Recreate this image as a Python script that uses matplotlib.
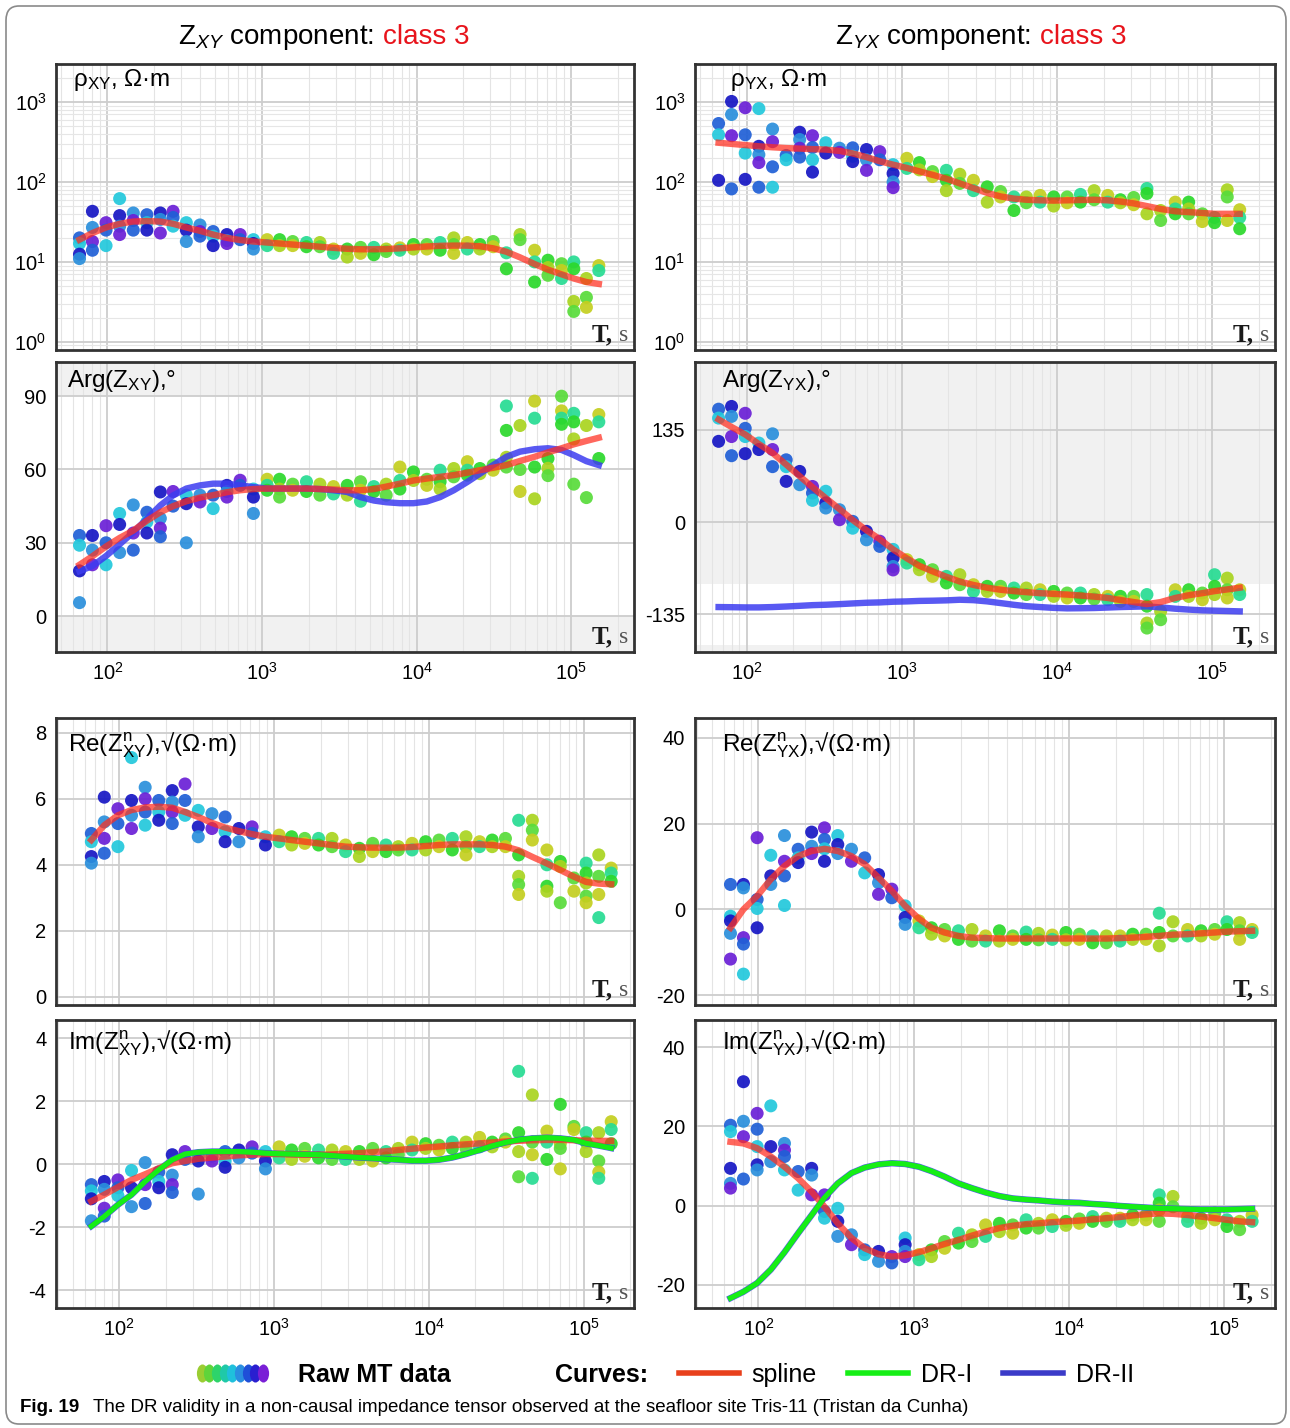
import numpy as np
import matplotlib
matplotlib.use("Agg")
from matplotlib import pyplot as plt
from matplotlib import font_manager
from matplotlib.lines import Line2D
from matplotlib.legend_handler import HandlerBase
from matplotlib.path import Path
from matplotlib.transforms import Affine2D
from matplotlib.patches import FancyBboxPatch
from matplotlib.ticker import LogLocator, NullFormatter

names = {f.name for f in font_manager.fontManager.ttflist}
NARROW = "Liberation Sans Narrow" if "Liberation Sans Narrow" in names else "Liberation Sans"

plt.rcParams["font.family"] = ["Liberation Sans", "DejaVu Sans"]
plt.rcParams["mathtext.fontset"] = "custom"
plt.rcParams["mathtext.rm"] = "Liberation Sans"
plt.rcParams["mathtext.it"] = "Liberation Sans:italic"
plt.rcParams["mathtext.bf"] = "Liberation Sans:bold"
plt.rcParams["axes.unicode_minus"] = False

# ---------------- data ----------------
T = [66, 80, 98, 120, 147, 180, 220, 266, 324, 397, 483, 593, 722, 880,
     1080, 1300, 1580, 1940, 2370, 2900, 3560, 4340, 5290, 6360, 7800, 9550,
     11650, 14200, 17400, 21300, 25700, 31300, 38100, 46700, 58000, 70800,
     86700, 104000, 125500, 151000]
N_SHORT = 14

rho_xy_raw = [
    [20, 17, 12.5, 11], [43, 27, 18, 14], [31, 25, 16], [62, 38, 28, 22],
    [41, 33, 25], [39, 31, 25], [41, 34, 23], [43, 36, 28], [31, 25, 18],
    [29, 24, 21], [24, 21, 16], [22, 18.5, 17], [22, 19], [19, 17, 14.5],
    [19, 16], [19, 16], [18, 16], [17.5, 15.5], [17.5, 15.5], [14.5, 12.8],
    [14.5, 11.5], [15.2, 12.8], [15.2, 12.3], [14.5, 13.5], [15, 14], [16.5, 14.5],
    [16.5, 14.5], [17.5, 14], [20, 16.5, 12.8], [17.5, 14.5], [16.5, 14.5], [18, 15.5],
    [13, 8.2], [22, 19], [14, 10, 5.6], [10.5, 8.5, 6.8], [9.5, 7.8, 6.2],
    [10, 8.2, 3.2, 2.4], [6.2, 3.6, 2.7], [9, 7.8]]
rho_xy_spline = [19, 23, 27, 30, 32, 32.5, 32, 30, 27, 24.5, 22, 20, 18.8, 18,
                 17.5, 17, 16.5, 16, 15.5, 15, 14.6, 14.4, 14.4, 14.5, 14.8, 15.2,
                 15.6, 15.9, 16, 16, 15.7, 14.8, 13.4, 11.4, 9.4, 8, 7, 6.2, 5.6, 5.3]

rho_yx_raw = [
    [540, 390, 105], [1020, 700, 380, 82], [850, 390, 230, 108], [830, 280, 220, 175, 86],
    [460, 320, 155, 86], [215, 190], [420, 340, 265, 205], [380, 270, 190, 133],
    [310, 230], [265, 235], [268, 210, 180], [255, 190, 140], [240, 190],
    [165, 128, 100, 85],
    [198, 148], [175, 142], [135, 117], [140, 105, 78], [125, 96], [105, 78],
    [87, 56], [76, 65], [65, 44], [65, 55], [68, 56], [65, 50], [65, 55], [70, 56],
    [78, 60], [68, 56], [60, 55], [64, 52],
    [83, 72, 40], [44, 33], [56, 46, 40], [56, 46, 40], [40, 32], [36, 31],
    [80, 65, 33], [45, 36, 26]]
rho_yx_spline = [310, 300, 290, 280, 272, 266, 262, 258, 255, 245, 228, 205, 182, 165,
                 150, 136, 123, 110, 96, 84, 73, 66, 62, 60, 59, 58.5, 59, 59.5, 60, 59,
                 57, 54, 50, 46, 43, 42, 41, 40, 40, 40]

arg_xy_raw = [
    [33, 29, 18.5, 5.5], [33, 27, 21], [37, 30, 21], [42, 37.5, 26], [45.5, 34, 27],
    [42.5, 38.5, 34], [50.8, 40, 36, 32.5], [51, 45], [49.5, 46, 30], [49.5, 46.7],
    [49.5, 44], [53.5, 51, 48.7], [55.6, 53.5], [52, 48.7, 42],
    [56, 53.5, 51.5], [56, 52, 48.7], [54, 51.5], [55, 51], [54, 49.5], [53, 50],
    [53.5, 49.5], [55, 51.5, 47], [53, 51], [54, 49.5], [61, 55.5, 52], [59, 55.5],
    [56, 53.5], [59.7, 55, 52], [60.4, 57], [63.2, 59.7, 57.7], [60.4, 58.3], [61.8, 59.7],
    [86, 76, 65, 61], [78, 60, 51], [88, 81, 61, 48], [64.5, 60.5, 57.5],
    [90, 84, 81, 78.5], [83, 79.5, 72.5, 54], [78, 48.5], [82.5, 79.5, 64.5]]
arg_xy_spline = [21, 24.5, 28.5, 32, 35, 39, 42.5, 45, 47, 48.5, 49.5, 50.7, 51.5, 52,
                 52.2, 52.2, 52.2, 52.2, 52, 51.8, 51.5, 51.5, 52, 53, 54.2, 55.5, 56.3,
                 57, 57.7, 58.7, 59.7, 60.7, 61.8, 63.5, 65.2, 67, 68.7, 70.3, 71.7, 73]
arg_xy_dr2 = [18.4, 20.5, 24.6, 29.4, 34.3, 39.8, 45.3, 49.4, 52.2, 53.5, 54.2, 54.2,
              53.5, 52.8, 52.2, 52.2, 52.2, 52.2, 52, 51.5, 50.8, 48.7, 47.3, 46.6, 46.2,
              46.2, 46.9, 48.7, 51.5, 54.9, 58.3, 61.8, 65.2, 67.3, 68.3, 68.7, 68, 65.9,
              63.4, 61.8]

arg_yx_raw = [
    [165, 152, 118], [169, 154.5, 125, 97], [159, 137, 125, 100], [115.5, 106],
    [129, 106, 81], [91, 81, 59.5], [74, 54.6], [52, 42.4, 31.7], [45, 28, 20.5],
    [18, 3.4], [1, -9], [-13.6, -26], [-28, -35.6], [-40, -52.6, -65, -70],
    [-55, -60], [-62.4, -69.7], [-69.7, -79.4], [-79.4, -89], [-77, -91.6],
    [-91.6, -101.4], [-94, -101.4], [-94, -101.4], [-96.5, -103.8], [-96.5, -106],
    [-99, -106], [-101.4, -108.7], [-103.8, -111], [-103.8, -111], [-106, -112.6],
    [-108.7, -113.6], [-108.7, -116], [-108.7, -116],
    [-106, -123, -147.7, -155], [-130.6, -142.8], [-99, -108.7], [-99, -108.7],
    [-103.8, -113.6], [-77, -94, -106], [-82, -99, -111], [-99, -106]]
arg_yx_spline = [150, 139, 128, 114, 101, 84, 67, 51, 35, 19, 3, -12, -25, -40, -53,
                 -64, -72, -80, -87, -92, -96, -99, -101, -102.5, -104, -105, -106,
                 -107.5, -109, -111, -114, -117, -120, -117, -111, -107, -104, -101,
                 -98.5, -96]
arg_yx_dr2 = [-124.3, -124.5, -124.8, -124.8, -124.3, -123.5, -122.5, -121.5, -120.9,
              -120, -119, -118, -117.5, -116.5, -116, -115.3, -115, -114.5, -113.6,
              -114.2, -116, -118.5, -121, -123, -124.3, -125.5, -126.2, -126, -125.7,
              -125, -124.3, -123.8, -123.3, -124.8, -126.7, -128, -129.1, -129.6,
              -130.1, -130.6]

re_xy_raw = [
    [4.95, 4.7, 4.25, 4.05], [6.05, 5.3, 4.8, 4.35], [5.7, 5.25, 4.55],
    [7.25, 5.95, 5.5, 5.1], [6.35, 6.0, 5.6, 5.2], [5.95, 5.6, 5.35],
    [6.25, 5.9, 5.6, 5.25], [6.45, 5.95, 5.5], [5.65, 5.15, 4.85], [5.55, 5.1],
    [5.45, 5.0, 4.7], [5.1, 4.7], [5.15, 4.95], [4.85, 4.6],
    [4.9, 4.7], [4.85, 4.6], [4.8, 4.65], [4.8, 4.6], [4.8, 4.55], [4.6, 4.4],
    [4.5, 4.25], [4.65, 4.4], [4.6, 4.4], [4.55, 4.45], [4.65, 4.45], [4.7, 4.45],
    [4.75, 4.55], [4.8, 4.45], [4.85, 4.55, 4.3], [4.7, 4.55], [4.75, 4.55], [4.8, 4.55],
    [5.35, 4.3, 3.65, 3.4, 3.1], [5.35, 5.05, 4.75], [4.45, 4.0, 3.35, 3.2],
    [4.1, 3.95, 2.85], [3.6, 3.2], [4.05, 3.75, 3.45, 3.05, 2.85],
    [4.3, 3.65, 3.1, 2.4], [3.9, 3.75, 3.5]]
re_xy_spline = [4.75, 5.2, 5.5, 5.66, 5.74, 5.76, 5.73, 5.6, 5.45, 5.27, 5.13, 5.02,
                4.93, 4.85, 4.8, 4.75, 4.7, 4.65, 4.6, 4.55, 4.53, 4.52, 4.52, 4.52,
                4.54, 4.57, 4.6, 4.62, 4.62, 4.62, 4.6, 4.55, 4.44, 4.24, 4.04, 3.84,
                3.64, 3.48, 3.43, 3.41]

re_yx_raw = [
    [5.8, -1.6, -2.7, -5.6, -11.6], [5.8, 5, -6.6, -8.1, -15.1], [16.7, 2.3, 0.2, -4.3],
    [12.6, 7.8, 5.8], [17.2, 11.2, 7.8, 0.9], [14, 12, 10.9], [18, 14.7, 13],
    [19, 16.3, 14.1, 11.2], [17.2, 15.1, 13], [14, 11.2], [12, 8.5], [8.1, 6.2, 3.5],
    [4.7, 2.7], [0.8, -1.9, -3.5],
    [-2.7, -4.3], [-4.3, -5.8], [-4.7, -6.2], [-5, -7], [-4.7, -7.4], [-6.2, -7.4],
    [-5, -7.4], [-6.2, -7], [-5.3, -7], [-5.6, -7.1], [-6, -7], [-5.4, -7.1],
    [-5.8, -7], [-6.2, -7.8], [-6.2, -7.8], [-6.2, -7.4], [-5.8, -7], [-5.8, -7],
    [-0.9, -5.4, -8.5], [-2.9, -6.2], [-4.7, -6.2], [-5, -6.2], [-4.7, -5.8],
    [-2.9, -4.7], [-3.1, -5, -7], [-4.7, -5.4]]
re_yx_spline = [-4.3, 0, 3.1, 7, 10.1, 12.4, 13.6, 14.1, 13.6, 12.4, 10.5, 7.4, 4.3,
                0.8, -2.2, -4.3, -5.4, -6.2, -6.6, -6.7, -6.8, -6.8, -6.8, -6.8, -6.8,
                -6.8, -6.8, -6.8, -6.8, -6.7, -6.6, -6.4, -6.2, -5.9, -5.8, -5.6, -5.4,
                -5.2, -5.1, -5]

im_xy_raw = [
    [-0.65, -0.85, -1.1, -1.8], [-0.55, -0.8, -1.4, -1.65], [-0.5, -0.75, -1.0],
    [-0.2, -0.75, -1.35], [0.05, -0.65, -1.25], [-0.25, -0.55, -0.75],
    [0.3, -0.35, -0.65, -0.9], [0.4, 0.15], [0.25, 0.1, -0.95], [0.25, 0.1],
    [0.4, 0.1, -0.1], [0.45, 0.2], [0.55, 0.35], [0.4, 0.1, -0.15],
    [0.55, 0.2], [0.45, 0.15], [0.5, 0.25], [0.45, 0.2], [0.45, 0.15], [0.4, 0.15],
    [0.4, 0.15], [0.5, 0.1], [0.4, 0.2], [0.5, 0.3], [0.7, 0.45], [0.65, 0.5],
    [0.6, 0.45], [0.7, 0.5], [0.7, 0.5], [0.85, 0.55], [0.7, 0.55], [0.8, 0.7],
    [2.95, 1.0, 0.4, -0.4], [2.2, 0.7, 0.3, -0.45], [1.05, 0.7, 0.15],
    [1.9, 0.65, 0.5, -0.15], [1.2, 1.1], [1.0, 0.7, 0.4], [1.0, 0.1, -0.25, -0.45],
    [1.35, 1.1, 0.65]]
im_xy_spline = [-1.18, -0.97, -0.73, -0.5, -0.32, -0.13, 0.03, 0.1, 0.17, 0.21, 0.24,
                0.28, 0.3, 0.32, 0.32, 0.31, 0.3, 0.3, 0.31, 0.33, 0.35, 0.38, 0.41,
                0.45, 0.49, 0.53, 0.56, 0.6, 0.63, 0.66, 0.69, 0.72, 0.74, 0.76, 0.77,
                0.77, 0.76, 0.75, 0.74, 0.74]
im_xy_dr = [-1.97, -1.66, -1.29, -0.97, -0.55, -0.18, 0.14, 0.32, 0.38, 0.4, 0.4, 0.4,
            0.38, 0.35, 0.33, 0.32, 0.31, 0.3, 0.27, 0.24, 0.21, 0.19, 0.16, 0.14, 0.11,
            0.11, 0.14, 0.21, 0.32, 0.45, 0.58, 0.69, 0.77, 0.82, 0.84, 0.82, 0.77,
            0.66, 0.59, 0.51]

im_yx_raw = [
    [20.3, 18.7, 9.4, 5.6, 4.4], [31.3, 21.3, 17.4, 6.7], [23.3, 19.3, 14.9, 10.3, 9],
    [25.2, 14.9, 11.1], [15.7, 14, 12.4, 9], [8.6, 3.9], [9.4, 7.7, 2.7],
    [2.7, -1.5, -3.2], [-0.7, -4, -7.8], [-7.4, -9.9], [-11.2, -12.4], [-11.6, -14.1],
    [-12.9, -14.5], [-8.2, -9.9, -11.6, -12.9],
    [-12.4, -13.7], [-11.2, -12.9], [-9.1, -10.8], [-7, -9.5], [-7.4, -9.1],
    [-4.9, -7.8], [-4.5, -6.6], [-4.9, -7], [-3.6, -5.7], [-4.5, -5.7], [-3.6, -5.3],
    [-4, -5], [-3.4, -4.5], [-2.8, -4], [-3.2, -4], [-3.2, -4], [-2.4, -3.6],
    [-2.4, -3.6],
    [2.7, 0.6, -1.1, -4], [2.3, -0.3], [-2.8, -4], [-3.2, -4.5], [-1.9, -3.6],
    [-3.6, -5.3], [-4, -6.1], [-2.4, -4]]
im_yx_spline = [16.1, 15.7, 14.5, 12.4, 9.8, 6.9, 3.5, -0.3, -4.5, -8.2, -10.8, -12.3,
                -12.9, -12.6, -11.8, -10.8, -9.7, -8.7, -7.6, -6.6, -5.7, -5.1, -4.7,
                -4.5, -4.2, -4, -3.8, -3.5, -3.2, -2.9, -2.5, -2.2, -2, -2.1, -2.4,
                -2.8, -3.2, -3.6, -4, -4.2]
im_yx_dr = [-23.4, -21.8, -19.6, -16.2, -11.8, -7, -2.4, 2, 5.6, 8.2, 9.6, 10.4, 10.7,
            10.5, 9.8, 8.7, 7.3, 5.6, 4.4, 3.3, 2.4, 1.8, 1.5, 1.3, 1.0, 0.8, 0.7, 0.4,
            0.2, -0.1, -0.3, -0.5, -0.7, -0.8, -0.9, -1.0, -1.0, -1.0, -0.9, -0.8]

XTICKS = [1e2, 1e3, 1e4, 1e5]

# ---------------- style ----------------
SHORT_COLORS = ["#1f5fd6", "#22c8dc", "#1616c4", "#2a8fdc", "#6a1fd6"]
LONG_COLORS = ["#2bd82b", "#a9d41f", "#58dc3a", "#c4cf1f", "#27dc93"]
LEGEND_DOTS = ["#9acd32", "#5fd43a", "#2dd46a", "#1fc9a8", "#1fc0dc",
               "#2a8ee0", "#1f4fd8", "#2a1fd0", "#7a1fd6"]
RED = "#ff2d1e"
GREEN = "#16ee16"
BLUE = "#3c3cf0"

W, H = 1290, 1428
fig = plt.figure(figsize=(W / 100, H / 100), dpi=100)


def box(x0, y0, x1, y1):
    return [x0 / W, 1 - y1 / H, (x1 - x0) / W, (y1 - y0) / H]


def panel(rect, raw, spline, xlim, ylim, label, lab_x, lab_y, yticks=None,
          logy=False, dr1=None, dr2=None, xlabels=False, shade=()):
    ax = fig.add_axes(rect)
    ax.set_xscale("log")
    if logy:
        ax.set_yscale("log")
    for lo, hi in shade:
        ax.axhspan(lo, hi, color="#f1f1f1", lw=0, zorder=0)

    xs, ys, cs = [], [], []
    for i, vals in enumerate(raw):
        pal = SHORT_COLORS if i < N_SHORT else LONG_COLORS
        for j, v in enumerate(vals):
            xs.append(T[i])
            ys.append(v)
            cs.append(pal[(2 * i + j) % len(pal)])
    ax.scatter(xs, ys, s=88, c=cs, edgecolors="none", alpha=0.92, zorder=3)

    if dr2 is not None:
        ax.plot(T, dr2, color=BLUE, lw=4.6, alpha=0.85, zorder=4)
    ax.plot(T, spline, color=RED, lw=4.6, alpha=0.72, zorder=5)
    if dr1 is not None:
        ax.plot(T, dr1, color=GREEN, lw=3.8, zorder=6)

    ax.set_xlim(*xlim)
    ax.set_ylim(*ylim)
    ax.set_xticks(XTICKS)
    ax.xaxis.set_minor_locator(LogLocator(base=10.0, subs=(2, 3, 4, 5, 6, 7, 8, 9), numticks=50))
    ax.xaxis.set_minor_formatter(NullFormatter())
    if logy:
        ax.set_yticks([1, 10, 100, 1000])
        ax.yaxis.set_minor_locator(LogLocator(base=10.0, subs=(2, 3, 4, 5, 6, 7, 8, 9), numticks=50))
        ax.yaxis.set_minor_formatter(NullFormatter())
        ax.grid(True, which="minor", axis="y", color="#e6e6e6", lw=0.8)
    else:
        ax.set_yticks(yticks)
    ax.set_axisbelow(True)
    ax.grid(True, which="major", color="#cdcdcd", lw=1.3)
    ax.grid(True, which="minor", axis="x", color="#e4e4e4", lw=0.8)

    ax.tick_params(which="both", length=0, labelsize=14.5, pad=7)
    if not xlabels:
        ax.tick_params(axis="x", labelbottom=False)
    for sp in ax.spines.values():
        sp.set_color("#333333")
        sp.set_linewidth(2)

    ax.text(lab_x, lab_y, label, transform=ax.transAxes, fontsize=17.5,
            ha="left", va="center", zorder=7)
    ax.text(0.99, 0.03, "s", transform=ax.transAxes, ha="right", va="baseline",
            family="Liberation Serif", fontsize=17, color="#555555", zorder=7)
    ax.text(0.963, 0.03, "T,", transform=ax.transAxes, ha="right", va="baseline",
            family="Liberation Serif", fontsize=18, fontweight="bold", color="#1a1a1a",
            zorder=7)
    return ax


XL_UP = (46.5, 255000)
XL_LO = (39, 212000)

panel(box(56, 64, 634, 350), rho_xy_raw, rho_xy_spline, XL_UP, (0.79, 3000),
      r"ρ$_{\mathrm{XY}}$, Ω·m", 0.03, 0.945, logy=True)
panel(box(695, 64, 1275, 350), rho_yx_raw, rho_yx_spline, XL_UP, (0.79, 3000),
      r"ρ$_{\mathrm{YX}}$, Ω·m", 0.06, 0.945, logy=True)
panel(box(56, 362, 634, 652), arg_xy_raw, arg_xy_spline, XL_UP, (-14.7, 104),
      r"Arg(Z$_{\mathrm{XY}}$),°", 0.019, 0.935, yticks=[0, 30, 60, 90],
      dr2=arg_xy_dr2, xlabels=True, shade=[(90, 200), (-100, 0)])
panel(box(695, 362, 1275, 652), arg_yx_raw, arg_yx_spline, XL_UP, (-190, 234),
      r"Arg(Z$_{\mathrm{YX}}$),°", 0.047, 0.935, yticks=[-135, 0, 135],
      dr2=arg_yx_dr2, xlabels=True, shade=[(-90, 300), (-300, -180)])
panel(box(56, 718, 634, 1005), re_xy_raw, re_xy_spline, XL_LO, (-0.25, 8.45),
      r"Re(Z$^{\mathrm{n}}_{\mathrm{XY}}$),√(Ω·m)", 0.02, 0.905, yticks=[0, 2, 4, 6, 8])
panel(box(695, 718, 1275, 1005), re_yx_raw, re_yx_spline, XL_LO, (-22.3, 44.6),
      r"Re(Z$^{\mathrm{n}}_{\mathrm{YX}}$),√(Ω·m)", 0.047, 0.905, yticks=[-20, 0, 20, 40])
panel(box(56, 1020, 634, 1308), im_xy_raw, im_xy_spline, XL_LO, (-4.57, 4.58),
      r"Im(Z$^{\mathrm{n}}_{\mathrm{XY}}$),√(Ω·m)", 0.02, 0.92, yticks=[-4, -2, 0, 2, 4],
      dr1=im_xy_dr, dr2=im_xy_dr, xlabels=True)
panel(box(695, 1020, 1275, 1308), im_yx_raw, im_yx_spline, XL_LO, (-25.9, 46.9),
      r"Im(Z$^{\mathrm{n}}_{\mathrm{YX}}$),√(Ω·m)", 0.047, 0.92, yticks=[-20, 0, 20, 40],
      dr1=im_yx_dr, dr2=im_yx_dr, xlabels=True)

# column titles
fig.text(374 / W, 1 - 37 / H, r"Z$_{XY}$ component:", ha="right", va="center", fontsize=20)
fig.text(383 / W, 1 - 37 / H, "class 3", ha="left", va="center", fontsize=20, color="#e8141c")
fig.text(1031 / W, 1 - 37 / H, r"Z$_{YX}$ component:", ha="right", va="center", fontsize=20)
fig.text(1040 / W, 1 - 37 / H, "class 3", ha="left", va="center", fontsize=20, color="#e8141c")

# legend
OVAL = Path.unit_circle().transformed(Affine2D().scale(0.62, 1.0))


class DotStrip(HandlerBase):
    # row of overlapping coloured ovals standing for the raw data sets
    def create_artists(self, legend, orig_handle, xdescent, ydescent, width, height,
                       fontsize, trans):
        xs = np.linspace(-xdescent - 0.4 * width, 0.62 * width - xdescent, len(LEGEND_DOTS))
        y = height / 2 - ydescent
        return [Line2D([x], [y], marker=OVAL, ms=13, ls="none", color=c, mec="none",
                       transform=trans) for x, c in zip(xs, LEGEND_DOTS)]


raw_proxy = Line2D([], [])
handles = [raw_proxy, Line2D([], [], color="none"),
           Line2D([], [], color="#e8401c", lw=4),
           Line2D([], [], color=GREEN, lw=4),
           Line2D([], [], color="#3b3bc8", lw=4)]
labels = ["Raw MT data", "Curves:", "spline", "DR-I", "DR-II"]
leg = fig.legend(handles, labels, loc="center", bbox_to_anchor=(0.527, 1 - 1375 / H),
                 ncol=5, frameon=False, prop={"family": NARROW, "size": 18},
                 handlelength=2.4, handletextpad=0.5, columnspacing=1.25,
                 handler_map={raw_proxy: DotStrip()})
for t in leg.get_texts()[:2]:
    t.set_fontweight("bold")

# caption
cap_size = 15 if NARROW != "Liberation Sans" else 13.5
fig.text(20 / W, 1 - 1407 / H, "Fig. 19", fontweight="bold", fontsize=cap_size,
         family=NARROW, va="center")
fig.text(93 / W, 1 - 1407 / H,
         "The DR validity in a non-causal impedance tensor observed at the seafloor site "
         "Tris-11 (Tristan da Cunha)", fontsize=cap_size, family=NARROW, va="center")

# outer frame
fig.patches.append(FancyBboxPatch((6 / W, 4 / H), 1280 / W, 1418 / H,
                                  boxstyle="round,pad=0,rounding_size=0.01",
                                  transform=fig.transFigure, fill=False,
                                  ec="#8a8a8a", lw=1.2))

fig.savefig("out.png", dpi=100)
